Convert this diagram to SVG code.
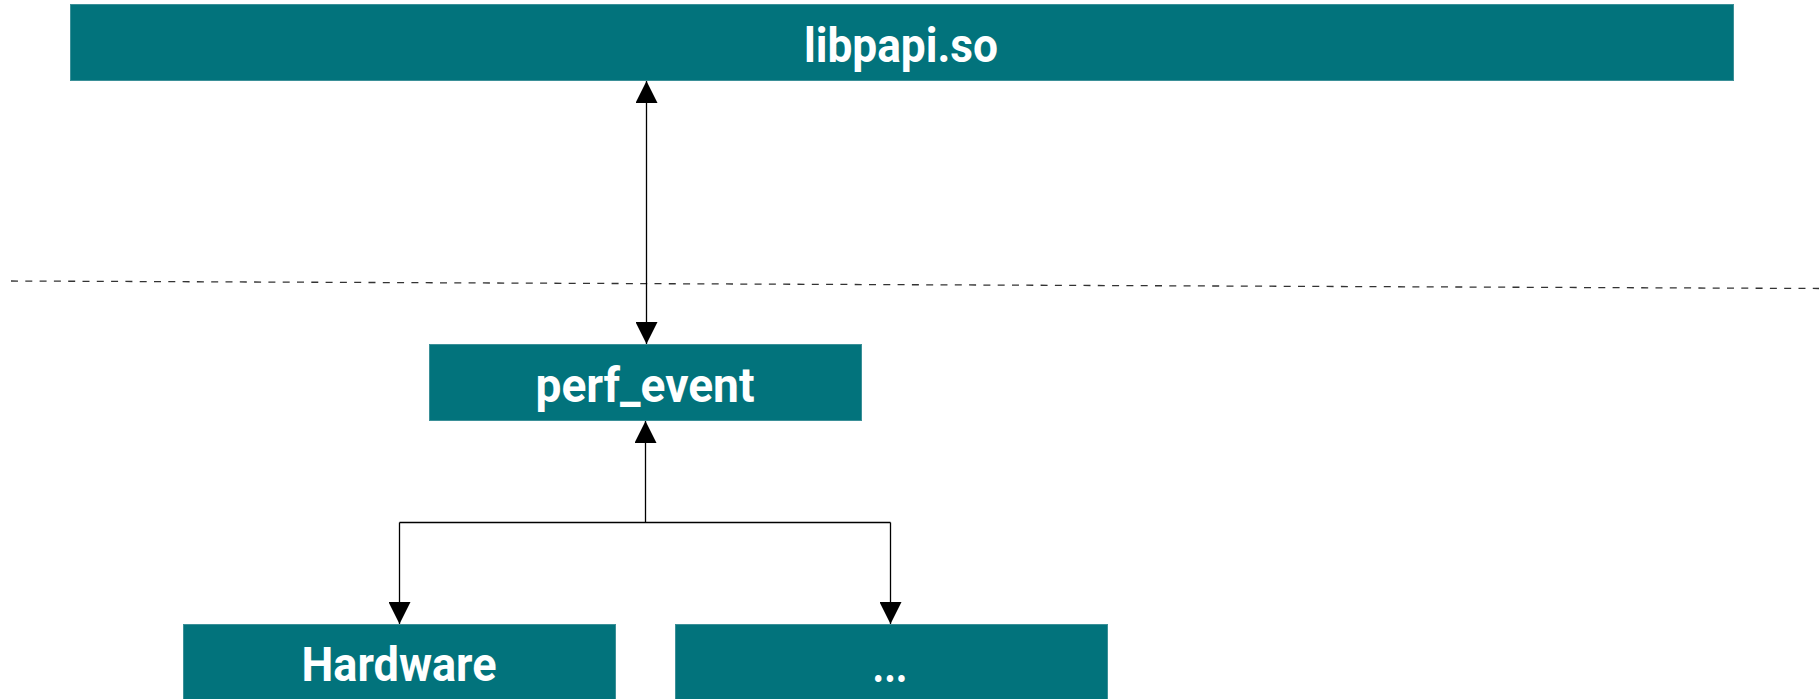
<svg xmlns="http://www.w3.org/2000/svg" width="1819" height="699" viewBox="0 0 1819 699">
<style>
.box{fill:#02737c;stroke:#3b9098;stroke-width:1}
.lbl{fill:#ffffff;font-family:Roboto,"Liberation Sans",sans-serif;font-weight:bold;font-size:48px;text-anchor:middle}
.con{fill:none;stroke:#000;stroke-width:1.3}
.sep{fill:none;stroke:#333;stroke-width:1.3;stroke-dasharray:7 7.3}
</style>
<defs>
<marker id="ah" viewBox="0 0 22 22" refX="22" refY="11" markerWidth="22" markerHeight="22" markerUnits="userSpaceOnUse" orient="auto-start-reverse">
<path d="M0,0 L22,11 L0,22 Z" fill="#000"/>
</marker>
</defs>
<rect width="1819" height="699" fill="#ffffff"/>
<line class="sep" x1="11" y1="281" x2="1819" y2="288.5"/>
<g id="connectors">
<path class="con" d="M646.5,81 L646.5,344" marker-start="url(#ah)" marker-end="url(#ah)"/>
<path class="con" d="M645.5,522.5 L645.5,421" marker-end="url(#ah)"/>
<path class="con" d="M399.5,522.5 L890.5,522.5"/>
<path class="con" d="M399.5,522.5 L399.5,624" marker-end="url(#ah)"/>
<path class="con" d="M890.5,522.5 L890.5,624" marker-end="url(#ah)"/>
</g>
<g id="libpapi">
<rect class="box" x="70.5" y="4.5" width="1663" height="76"/>
<text class="lbl" x="901" y="62" textLength="194" lengthAdjust="spacingAndGlyphs">libpapi.so</text>
</g>
<g id="perf_event">
<rect class="box" x="429.5" y="344.5" width="432" height="76"/>
<text class="lbl" x="645" y="402" textLength="219" lengthAdjust="spacingAndGlyphs">perf_event</text>
</g>
<g id="hardware">
<rect class="box" x="183.5" y="624.5" width="432" height="80"/>
<text class="lbl" x="399" y="681" textLength="195" lengthAdjust="spacingAndGlyphs">Hardware</text>
</g>
<g id="more">
<rect class="box" x="675.5" y="624.5" width="432" height="80"/>
<text class="lbl" x="890" y="682" textLength="35" lengthAdjust="spacingAndGlyphs">...</text>
</g>
</svg>
